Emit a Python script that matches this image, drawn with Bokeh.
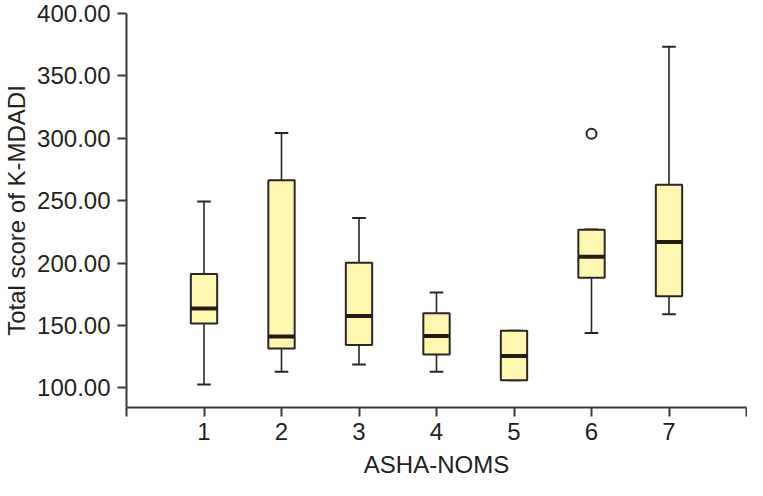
from bokeh.plotting import figure
from bokeh.models import ColumnDataSource, FixedTicker, Range1d, PrintfTickFormatter
from bokeh.embed import file_html
from bokeh.resources import INLINE

# --- data ---
groups = [1, 2, 3, 4, 5, 6, 7]
lower_whisker = [102.7, 112.9, 118.8, 112.9, 106.0, 143.9, 159.0]
q1 = [151.6, 131.6, 134.4, 126.7, 106.0, 188.2, 173.4]
median = [163.6, 141.1, 157.5, 141.6, 125.5, 205.1, 216.9]
q3 = [191.3, 266.3, 200.3, 159.8, 145.7, 226.7, 262.7]
upper_whisker = [249.4, 304.2, 236.1, 176.4, 145.7, 226.9, 373.3]
outlier_x = [6]
outlier_y = [303.7]
x_ticks = [0, 1, 2, 3, 4, 5, 6, 7, 8]
y_ticks = [100, 150, 200, 250, 300, 350, 400]

BOX_W = 0.34
CAP_HALF = 0.088
FONT = "Liberation Sans"
TXT = "#231f20"
LINE = "#2a2624"
FILL = "#fff7b0"

src = ColumnDataSource(dict(
    x=groups, lo=lower_whisker, q1=q1, med=median, q3=q3, hi=upper_whisker,
    x0=[g - BOX_W / 2 for g in groups], x1=[g + BOX_W / 2 for g in groups],
    c0=[g - CAP_HALF for g in groups], c1=[g + CAP_HALF for g in groups],
))

p = figure(width=747, height=480, output_backend="svg", toolbar_location=None,
           x_range=Range1d(0, 8), y_range=Range1d(84.25, 400),
           min_border_top=13, min_border_right=1, min_border_bottom=0, min_border_left=0)
p.outline_line_color = None
p.xgrid.visible = False
p.ygrid.visible = False
p.background_fill_color = "white"

# whiskers
p.segment(x0="x", y0="q3", x1="x", y1="hi", source=src, line_color=LINE, line_width=1.6)
p.segment(x0="x", y0="lo", x1="x", y1="q1", source=src, line_color=LINE, line_width=1.6)
p.segment(x0="c0", y0="hi", x1="c1", y1="hi", source=src, line_color=LINE, line_width=2)
p.segment(x0="c0", y0="lo", x1="c1", y1="lo", source=src, line_color=LINE, line_width=2)
# boxes
p.vbar(x="x", width=BOX_W, top="q3", bottom="q1", source=src,
       fill_color=FILL, line_color=LINE, line_width=2)
# medians
p.segment(x0="x0", y0="med", x1="x1", y1="med", source=src, line_color="#231a10", line_width=4)
# outliers
p.scatter(outlier_x, outlier_y, size=10, fill_color="white", line_color=LINE, line_width=2)

for ax in (p.xaxis[0], p.yaxis[0]):
    ax.axis_line_color = "#3a3a3a"
    ax.axis_line_width = 2
    ax.major_tick_line_color = "#3a3a3a"
    ax.major_tick_line_width = 2
    ax.major_tick_in = 0
    ax.major_tick_out = 9
    ax.minor_tick_line_color = None
    ax.major_label_text_font = FONT
    ax.major_label_text_font_size = "24px"
    ax.major_label_text_color = TXT
    ax.axis_label_text_font = FONT
    ax.axis_label_text_font_size = "24px"
    ax.axis_label_text_font_style = "normal"
    ax.axis_label_text_color = TXT

p.xaxis.ticker = FixedTicker(ticks=x_ticks)
p.xaxis.major_label_overrides = {0: "", 8: ""}
p.xaxis.axis_label = "ASHA-NOMS"
p.xaxis.major_label_standoff = 6
p.xaxis.axis_label_standoff = 8

p.yaxis.ticker = FixedTicker(ticks=y_ticks)
p.yaxis.formatter = PrintfTickFormatter(format="%.2f")
p.yaxis.axis_label = "Total score of K-MDADI"
p.yaxis.major_label_standoff = 7
p.yaxis.axis_label_standoff = 4

open("out.html", "w").write(file_html(p, INLINE))
